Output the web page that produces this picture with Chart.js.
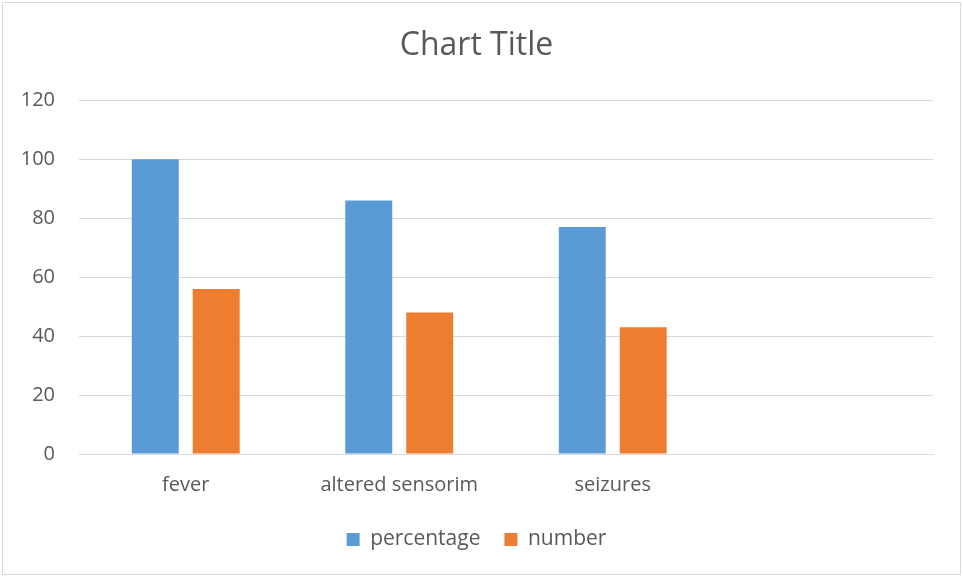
<!DOCTYPE html>
<html>
<head>
<meta charset="utf-8">
<script src="https://cdn.jsdelivr.net/npm/chart.js@4"></script>
<style>
  html, body { margin: 0; padding: 0; background: #fff; }
  #wrap { width: 963px; height: 577px; position: relative; }
</style>
</head>
<body>
<div id="wrap"><canvas id="chart" width="963" height="577"></canvas></div>
<script>
const categories = ['fever', 'altered sensorim', 'seizures', ''];
const percentage = [100, 86, 77, null];
const number = [56, 48, 43, null];
const yTicks = [0, 20, 40, 60, 80, 100, 120];

const FONT = "'Open Sans', 'Liberation Sans', sans-serif";
const TEXT = '#595959';
const GRID = '#d9d9d9';

// thin frame round the whole chart, like the office export
const framePlugin = {
  id: 'frame',
  afterDraw(chart) {
    const c = chart.ctx;
    c.save();
    c.strokeStyle = GRID;
    c.lineWidth = 1;
    c.strokeRect(2.5, 2.5, chart.width - 5, chart.height - 5);
    c.restore();
  }
};

const chart = new Chart(document.getElementById('chart'), {
  type: 'bar',
  data: {
    labels: categories,
    datasets: [
      { label: 'percentage', data: percentage, backgroundColor: '#5b9bd5' },
      { label: 'number', data: number, backgroundColor: '#ed7d31' }
    ]
  },
  options: {
    responsive: false,
    animation: false,
    layout: { padding: { left: 20, right: 30, top: 0, bottom: 17 } },
    categoryPercentage: 0.571,
    barPercentage: 0.77,
    scales: {
      x: {
        grid: { display: false },
        border: { color: GRID },
        ticks: { color: TEXT, font: { family: FONT, size: 20 }, padding: 11 },
        afterFit: (scale) => { scale.height = 51; }
      },
      y: {
        min: 0,
        max: 120,
        afterBuildTicks: (scale) => { scale.ticks = yTicks.map((v) => ({ value: v })); },
        grid: { color: GRID, drawTicks: false },
        border: { display: false },
        ticks: { color: TEXT, font: { family: FONT, size: 20 }, padding: 24 },
        afterFit: (scale) => { scale.width = 59; }
      }
    },
    plugins: {
      title: {
        display: true,
        text: 'Chart Title',
        color: TEXT,
        font: { family: FONT, size: 32, weight: 'normal' },
        padding: { top: 27, bottom: 35 }
      },
      legend: {
        position: 'bottom',
        labels: {
          color: TEXT,
          font: { family: FONT, size: 21 },
          boxWidth: 13,
          boxHeight: 13,
          padding: 24
        }
      },
      tooltip: { enabled: false }
    }
  },
  plugins: [framePlugin]
});
</script>
</body>
</html>
